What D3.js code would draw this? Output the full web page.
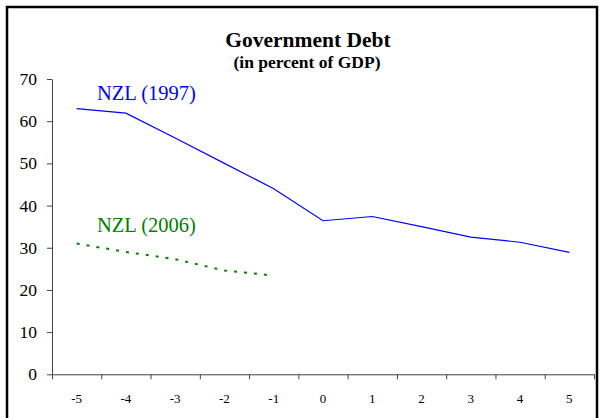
<!DOCTYPE html>
<html>
<head>
<meta charset="utf-8">
<script src="https://cdn.jsdelivr.net/npm/d3@7"></script>
<style>
  body { margin: 0; background: #fff; }
  svg, svg text { font-family: "Liberation Serif", "Times New Roman", Times, serif; }
  svg { display: block; }
</style>
</head>
<body>
<svg id="chart"></svg>
<script>
var w = 601;
var h = 418;
var serif = "'Liberation Serif', 'Times New Roman', Times, serif";

// years relative to crisis
var periods = [-5, -4, -3, -2, -1, 0, 1, 2, 3, 4, 5];
var nzl1997 = [63.0, 61.9, 56.0, 50.0, 44.0, 36.4, 37.4, 35.0, 32.5, 31.3, 28.9];
var nzl2006 = [31.0, 29.0, 27.3, 24.6, 23.4];
var yTicks = [0, 10, 20, 30, 40, 50, 60, 70];

var svg = d3.select("#chart")
    .attr("width", w)
    .attr("height", h);

// outer frame (runs off the bottom like the original)
svg.append("path")
    .attr("d", "M7,430 V7 H597 V430")
    .attr("fill", "none")
    .attr("stroke", "#000")
    .attr("stroke-width", 2.5);

var x = d3.scaleBand()
    .domain(periods)
    .range([52, 594])
    .padding(0);

// boundaries between categories for the tick marks
var xEdge = d3.scaleLinear()
    .domain([-5.5, 5.5])
    .range([52, 594]);

var y = d3.scaleLinear()
    .domain([0, 70])
    .range([374.3, 79]);

function cx(d) { return x(d) + x.bandwidth() / 2; }

// y axis
var yAxis = svg.append("g")
    .attr("transform", "translate(52,0)")
    .call(d3.axisLeft(y).tickValues(yTicks).tickSize(5).tickPadding(10).tickSizeOuter(0))
    .attr("font-family", serif)
    .attr("font-size", 17.5);
yAxis.select(".domain").attr("stroke", "#444");
yAxis.selectAll(".tick line").attr("stroke", "#444");
yAxis.selectAll("text").attr("fill", "#000");

// x axis: tick marks at the edges
var xTickVals = d3.range(-5.5, 6, 1);
var xAxis = svg.append("g")
    .attr("transform", "translate(0,374.3)")
    .call(d3.axisBottom(xEdge).tickValues(xTickVals).tickSize(5).tickSizeOuter(0).tickFormat(""));
xAxis.select(".domain").attr("stroke", "#444");
xAxis.selectAll(".tick line").attr("stroke", "#444");

// x labels centred in each category
var xLabels = svg.append("g")
    .attr("transform", "translate(0,374.3)")
    .call(d3.axisBottom(x).tickSize(0).tickPadding(19))
    .attr("font-family", serif)
    .attr("font-size", 13);
xLabels.select(".domain").remove();
xLabels.selectAll("text").attr("fill", "#000");

var line = d3.line()
    .x(function (d, i) { return cx(periods[i]); })
    .y(function (d) { return y(d); });

svg.append("path")
    .datum(nzl1997)
    .attr("d", line)
    .attr("fill", "none")
    .attr("stroke", "#0000ff")
    .attr("stroke-width", 1.2);

svg.append("path")
    .datum(nzl2006)
    .attr("d", line)
    .attr("fill", "none")
    .attr("stroke", "#008000")
    .attr("stroke-width", 2)
    .attr("stroke-dasharray", "3,7");

// series labels
svg.append("text")
    .attr("x", 97)
    .attr("y", 100)
    .attr("fill", "#0000ff")
    .attr("font-family", serif)
    .attr("font-size", 20.5)
    .text("NZL (1997)");

svg.append("text")
    .attr("x", 97)
    .attr("y", 232)
    .attr("fill", "#008000")
    .attr("font-family", serif)
    .attr("font-size", 20.5)
    .text("NZL (2006)");

// titles
svg.append("text")
    .attr("x", 308)
    .attr("y", 47)
    .attr("text-anchor", "middle")
    .attr("font-family", serif)
    .attr("font-weight", "bold")
    .attr("font-size", 21.5)
    .text("Government Debt");

svg.append("text")
    .attr("x", 307)
    .attr("y", 68)
    .attr("text-anchor", "middle")
    .attr("font-family", serif)
    .attr("font-weight", "bold")
    .attr("font-size", 17.5)
    .text("(in percent of GDP)");
</script>
</body>
</html>
